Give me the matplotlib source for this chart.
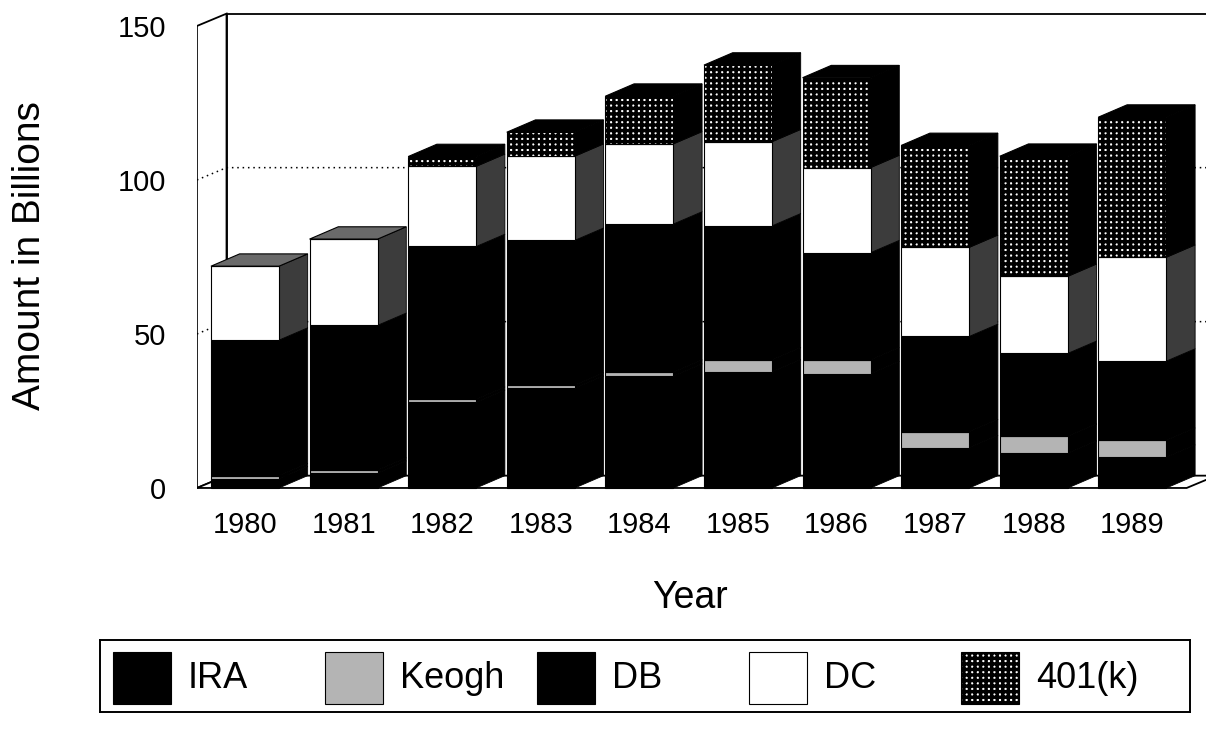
import matplotlib.pyplot as plt
from matplotlib.patches import Polygon, Rectangle

plt.rcParams['font.family'] = ['Liberation Sans', 'DejaVu Sans']
plt.rcParams['hatch.linewidth'] = 2.5

# data (billions)
years = ['1980', '1981', '1982', '1983', '1984', '1985', '1986', '1987', '1988', '1989']
ira = [3.0, 4.8, 27.8, 32.4, 36.3, 37.7, 37.1, 13.1, 11.3, 10.0]
keogh = [1.0, 1.0, 1.0, 1.0, 1.3, 3.9, 4.5, 5.2, 5.5, 5.5]
db = [44.0, 47.0, 49.6, 47.0, 48.1, 43.5, 34.8, 30.9, 26.9, 25.7]
dc = [24.0, 28.0, 26.0, 27.3, 26.0, 27.3, 27.6, 28.9, 25.0, 33.7]
k401 = [0.0, 0.0, 3.2, 7.8, 15.5, 24.9, 29.2, 33.1, 39.0, 45.5]
yticks = [0, 50, 100, 150]

series = [('IRA', ira), ('Keogh', keogh), ('DB', db), ('DC', dc), ('401(k)', k401)]

# look of each series: front face, side face, top face
front = {
    'IRA': dict(facecolor='black', edgecolor='black'),
    'Keogh': dict(facecolor='#b4b4b4', edgecolor='black'),
    'DB': dict(facecolor='black', edgecolor='black'),
    'DC': dict(facecolor='white', edgecolor='black'),
    '401(k)': dict(facecolor='white', edgecolor='black', hatch='+++'),
}
side = {'IRA': 'black', 'Keogh': 'black', 'DB': 'black', 'DC': '#3c3c3c', '401(k)': 'black'}
top = {'IRA': 'black', 'Keogh': 'black', 'DB': 'black', 'DC': '#6a6a6a', '401(k)': 'black'}

width = 0.69
dx, dy = 0.3, 4.0        # depth offset of the fake 3d box
x0 = -0.487              # front edge of the left wall
x1 = 9.55                # front edge of the floor, right end

fig = plt.figure(figsize=(12.06, 7.34), dpi=100)
ax = fig.add_axes([0.1633, 0.3226, 0.8367, 0.6672])
ax.set_xlim(x0, x0 + 1009 / 98.6)
ax.set_ylim(-3, 156)

# walls and floor
ax.add_patch(Polygon([(x0 + dx, dy), (x1 + dx + 2, dy), (x1 + dx + 2, 150 + dy), (x0 + dx, 150 + dy)],
                     closed=True, facecolor='white', edgecolor='black', lw=1.3, zorder=0.5))
ax.add_patch(Polygon([(x0, 0), (x0 + dx, dy), (x0 + dx, 150 + dy), (x0, 150)],
                     closed=True, facecolor='white', edgecolor='black', lw=1.3, zorder=0.6))
ax.add_patch(Polygon([(x0, 0), (x1, 0), (x1 + dx, dy), (x0 + dx, dy)],
                     closed=True, facecolor='white', edgecolor='black', lw=1.3, zorder=0.6))
for v in yticks[1:-1]:
    ax.plot([x0, x0 + dx, x1 + dx + 2], [v, v + dy, v + dy], color='black', ls=(0, (1, 2.5)),
            lw=1.1, zorder=0.7)

# stacked bars: front faces via ax.bar, side/top faces as polygons
xs = list(range(len(years)))
bottoms = [0.0] * len(years)
tops_owner = [None] * len(years)
for name, vals in series:
    ax.bar(xs, vals, width=width, bottom=bottoms, linewidth=0.8, zorder=3, **front[name])
    for i, v in enumerate(vals):
        if v <= 0:
            continue
        b = bottoms[i]
        xr = i + width / 2
        ax.add_patch(Polygon([(xr, b), (xr + dx * 0.97, b + dy), (xr + dx * 0.97, b + v + dy), (xr, b + v)],
                             closed=True, facecolor=side[name], edgecolor='black', lw=0.6, zorder=2.5))
        tops_owner[i] = name
    bottoms = [b + v for b, v in zip(bottoms, vals)]

for i, t in enumerate(bottoms):
    xl = i - width / 2
    xr = i + width / 2
    ax.add_patch(Polygon([(xl, t), (xl + dx * 0.97, t + dy), (xr + dx * 0.97, t + dy), (xr, t)],
                         closed=True, facecolor=top[tops_owner[i]], edgecolor='black', lw=0.8, zorder=2.6))

for s in ax.spines.values():
    s.set_visible(False)
ax.set_yticks(yticks)
ax.set_yticklabels([str(t) for t in yticks], fontsize=21)
ax.set_xticks(xs)
ax.set_xticklabels(years, fontsize=21)
ax.tick_params(axis='y', length=0, pad=22)
ax.tick_params(axis='x', length=0, pad=10)

fig.text(690 / 1206, 1 - 598 / 734, 'Year', ha='center', va='center', fontsize=27)
fig.text(30 / 1206, 1 - 256 / 734, 'Amount in Billions', ha='center', va='center',
         rotation=90, fontsize=28)

# legend box
lax = fig.add_axes([100 / 1206, 22 / 734, 1090 / 1206, 72 / 734])
lax.set_xlim(0, 1090)
lax.set_ylim(0, 72)
lax.set_xticks([])
lax.set_yticks([])
for s in lax.spines.values():
    s.set_linewidth(1.4)
for k, (name, _) in enumerate(series):
    sx = 13 + k * 212
    lax.add_patch(Rectangle((sx, 8), 58, 52, linewidth=0.8, **front[name]))
    lax.text(sx + 58 + 17, 33, name, ha='left', va='center', fontsize=26)

fig.savefig('out.png', dpi=100)
